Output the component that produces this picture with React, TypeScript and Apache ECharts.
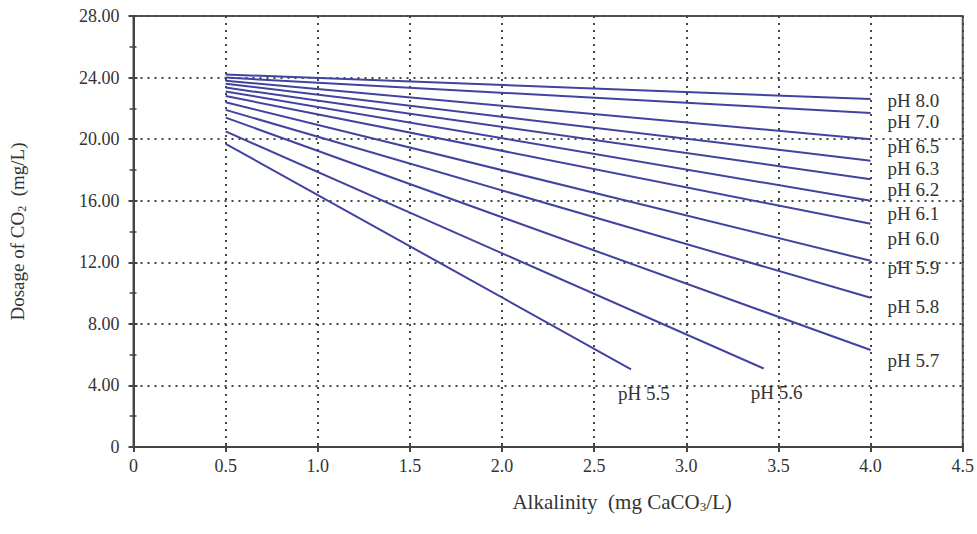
import React, { useEffect, useRef } from "react";
import * as echarts from "echarts";

const phLabels = ["pH 8.0", "pH 7.0", "pH 6.5", "pH 6.3", "pH 6.2", "pH 6.1", "pH 6.0", "pH 5.9", "pH 5.8", "pH 5.7", "pH 5.6", "pH 5.5"];
const startAlkalinity = [0.5, 0.5, 0.5, 0.5, 0.5, 0.5, 0.5, 0.5, 0.5, 0.5, 0.5, 0.5];
const startDosage = [24.2, 24.0, 23.8, 23.6, 23.35, 23.1, 22.8, 22.4, 21.9, 21.4, 20.5, 19.7];
const endAlkalinity = [4.0, 4.0, 4.0, 4.0, 4.0, 4.0, 4.0, 4.0, 4.0, 4.0, 3.42, 2.7];
const endDosage = [22.6, 21.7, 20.0, 18.6, 17.4, 16.0, 14.5, 12.1, 9.7, 6.3, 5.1, 5.05];

// label placement tweaks (style only)
const labelOffsets: [number, number][] = [
  [0, 1], [0, 9], [0, 7], [0, 8], [0, 10], [0, 13], [0, 15], [0, 7], [0, 9], [0, 10], [-30, 24], [-30, 24],
];

const FONT = "'Liberation Serif', 'Times New Roman', serif";
const TEXT = "#333";
const LINE = "#4242a0";

export default function App() {
  const ref = useRef<HTMLDivElement>(null);
  useEffect(() => {
    if (!ref.current) return;
    const chart = echarts.init(ref.current, undefined, { renderer: "svg" });
    const series = phLabels.map((name, i) => ({
      name,
      type: "line",
      xAxisIndex: 0,
      yAxisIndex: 0,
      data: [
        [startAlkalinity[i], startDosage[i]],
        [endAlkalinity[i], endDosage[i]],
      ],
      symbol: "none",
      lineStyle: { color: LINE, width: 2 },
      endLabel: {
        show: true,
        formatter: "{a}",
        distance: 17,
        offset: labelOffsets[i],
        color: TEXT,
        fontFamily: FONT,
        fontSize: 19,
      },
      silent: true,
    }));
    chart.setOption({
      animation: false,
      backgroundColor: "#fff",
      grid: {
        left: 133,
        right: 12,
        top: 16,
        bottom: 87,
        show: true,
        borderColor: "#555",
        borderWidth: 2,
      },
      xAxis: [
        {
          type: "value",
          min: 0,
          max: 4.5,
          interval: 0.5,
          name: "Alkalinity  (mg CaCO{sub|3}/L)",
          nameLocation: "middle",
          nameGap: 44,
          nameTextStyle: {
            color: TEXT,
            fontFamily: FONT,
            fontSize: 21,
            padding: [0, 0, 0, 148],
            rich: { sub: { fontSize: 13, fontFamily: FONT, color: TEXT, padding: [9, 0, 0, 0] } },
          },
          axisLine: { show: true, lineStyle: { color: "#444", width: 2 } },
          axisTick: { show: true, length: 5, lineStyle: { color: "#444", width: 2 } },
          axisLabel: {
            color: TEXT,
            fontFamily: FONT,
            fontSize: 18,
            margin: 10,
            formatter: (v: number) => (v === 0 ? "0" : v.toFixed(1)),
          },
          splitLine: { show: true, lineStyle: { color: "#444", width: 2, type: [2, 5] } },
        },
        {
          type: "value",
          position: "bottom",
          min: 0,
          max: 4.5,
          interval: 0.5,
          axisLine: { show: false },
          axisTick: { show: true, inside: true, length: 4, lineStyle: { color: "#444", width: 2 } },
          axisLabel: { show: false },
          splitLine: { show: false },
        },
      ],
      yAxis: [
        {
          type: "value",
          min: 0,
          max: 28,
          interval: 4,
          name: "Dosage of CO{sub|2}  (mg/L)",
          nameLocation: "middle",
          nameGap: 106,
          nameRotate: 90,
          nameTextStyle: {
            color: TEXT,
            fontFamily: FONT,
            fontSize: 19,
            rich: { sub: { fontSize: 12, fontFamily: FONT, color: TEXT, padding: [8, 0, 0, 0] } },
          },
          axisLine: { show: true, lineStyle: { color: "#444", width: 2 } },
          axisTick: { show: true, length: 5, lineStyle: { color: "#444", width: 2 } },
          minorTick: { show: true, splitNumber: 2, length: 4, lineStyle: { color: "#444", width: 1.5 } },
          axisLabel: {
            color: TEXT,
            fontFamily: FONT,
            fontSize: 18,
            margin: 14,
            formatter: (v: number) => (v === 0 ? "0" : v.toFixed(2)),
          },
          splitLine: { show: true, lineStyle: { color: "#444", width: 2, type: [2, 5] } },
        },
        {
          type: "value",
          position: "left",
          min: 0,
          max: 28,
          interval: 4,
          axisLine: { show: false },
          axisTick: { show: true, inside: true, length: 4, lineStyle: { color: "#444", width: 2 } },
          minorTick: { show: true, splitNumber: 2, length: 3, lineStyle: { color: "#444", width: 1.5 } },
          axisLabel: { show: false },
          splitLine: { show: false },
        },
      ],
      series,
    });
    return () => chart.dispose();
  }, []);
  return (
    <div
      ref={ref}
      style={{ position: "fixed", left: 0, top: 0, width: 977, height: 534 }}
    />
  );
}
